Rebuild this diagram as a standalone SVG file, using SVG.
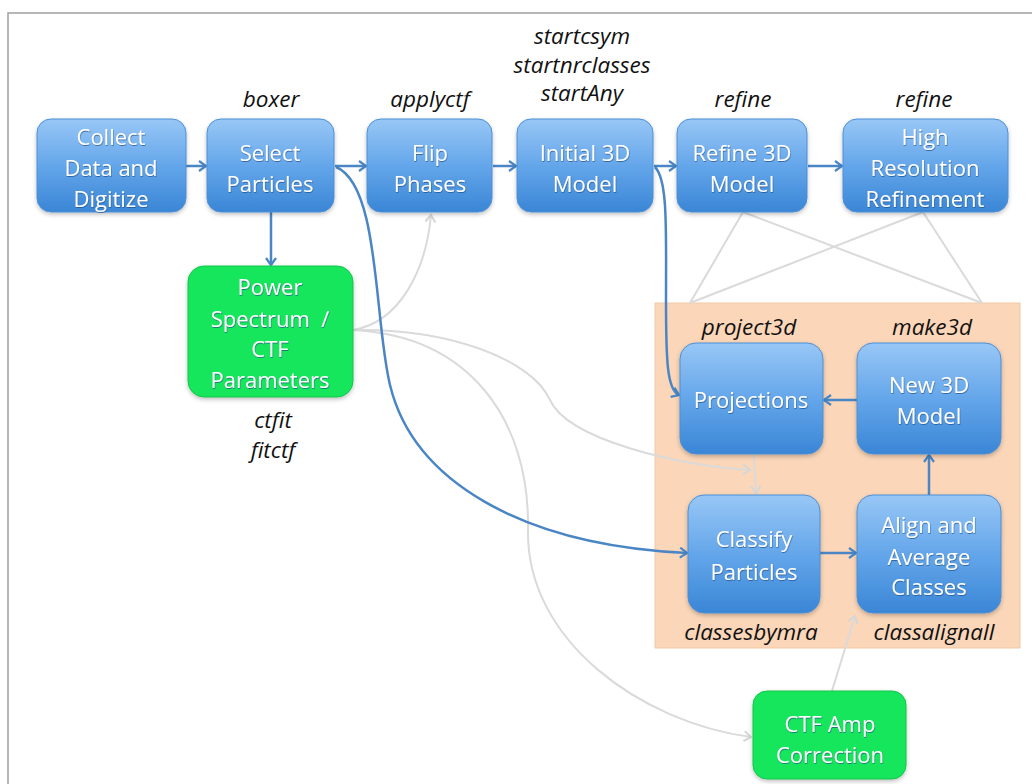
<svg xmlns="http://www.w3.org/2000/svg" width="1032" height="784" viewBox="0 0 1032 784">
  <defs>
    <linearGradient id="blueFill" x1="0" y1="0" x2="0" y2="1">
      <stop offset="0" stop-color="#98c7f6"/>
      <stop offset="0.5" stop-color="#64a6ea"/>
      <stop offset="1" stop-color="#3a86d6"/>
    </linearGradient>
    <filter id="shadow" x="-10%" y="-10%" width="120%" height="130%">
      <feDropShadow dx="0" dy="2" stdDeviation="2" flood-color="#000" flood-opacity="0.25"/>
    </filter>
    <filter id="textShadow" x="-10%" y="-20%" width="120%" height="150%">
      <feDropShadow dx="0.5" dy="1" stdDeviation="0.6" flood-color="#1b4f86" flood-opacity="0.7"/>
    </filter>
    <marker id="arrowBlue" markerWidth="12" markerHeight="12" refX="9" refY="6" orient="auto" markerUnits="userSpaceOnUse">
      <path d="M2,1 L9,6 L2,11" fill="none" stroke="#4a86c5" stroke-width="2.2" stroke-linejoin="miter"/>
    </marker>
    <marker id="arrowGray" markerWidth="12" markerHeight="12" refX="9" refY="6" orient="auto" markerUnits="userSpaceOnUse">
      <path d="M2,1 L9,6 L2,11" fill="none" stroke="#d6d6d6" stroke-width="2" stroke-linejoin="miter"/>
    </marker>
  </defs>
  <style>
    .frame { stroke: #a0a0a0; stroke-width: 1.5; fill: none; }
    .blue { fill: url(#blueFill); stroke: #4d8fd6; stroke-width: 1; filter: url(#shadow); }
    .green { fill: #14e65c; stroke: #12c44b; stroke-width: 1; filter: url(#shadow); }
    .label { font-family: "Open Sans", "Liberation Sans", sans-serif; font-size: 22px; fill: #ffffff; text-anchor: middle; filter: url(#textShadow); }
    .cmd { font-family: "Open Sans", "Liberation Sans", sans-serif; font-size: 22.5px; font-style: italic; fill: #111111; text-anchor: middle; }
    .cb { fill: none; stroke: #4a86c5; stroke-width: 2.5; }
    .cg { fill: none; stroke: #dadada; stroke-width: 2; }
  </style>

  <rect width="1032" height="784" fill="#ffffff"/>
  <path class="frame" d="M8,784 L8,13 L1032,13"/>

  <!-- iteration panel background -->
  <rect id="refinement-loop" x="655" y="303" width="365" height="345" fill="#fbd6b8" stroke="#f1c9a6" stroke-width="1"/>

  <!-- connectors -->
  <g id="connectors">
    <!-- gray guide lines from refinement stages to the loop panel -->
    <path class="cg" d="M743,212 L690,303"/>
    <path class="cg" d="M743,212 L982,303"/>
    <path class="cg" d="M923,212 L690,303"/>
    <path class="cg" d="M923,212 L982,303"/>

    <!-- CTF parameter flows -->
    <path class="cg" d="M353,330 C 400,322 426,270 431,215" marker-end="url(#arrowGray)"/>
    <path class="cg" d="M353,330 C 450,328 532,360 550,400 C 568,440 680,466 750,470" marker-end="url(#arrowGray)"/>
    <path class="cg" d="M353,330 C 470,336 530,420 528,530 C 526,640 640,722 751,737" marker-end="url(#arrowGray)"/>
    <path class="cg" d="M754,455 L756,493" marker-end="url(#arrowGray)"/>
    <path class="cg" d="M832,691 L855,616" stroke-width="3" marker-end="url(#arrowGray)"/>

    <!-- main pipeline -->
    <path class="cb" d="M186,166 L206,166" marker-end="url(#arrowBlue)"/>
    <path class="cb" d="M335,166 L366,166" marker-end="url(#arrowBlue)"/>
    <path class="cb" d="M493,166 L516,166" marker-end="url(#arrowBlue)"/>
    <path class="cb" d="M654,166 L676,166" marker-end="url(#arrowBlue)"/>
    <path class="cb" d="M808,166 L842,166" marker-end="url(#arrowBlue)"/>
    <path class="cb" d="M271,212 L271,265" marker-end="url(#arrowBlue)"/>
    <path class="cb" d="M336,167 C 380,185 374,320 390,385 C 413,480 520,545 687,553" marker-end="url(#arrowBlue)"/>
    <path class="cb" d="M655,167 C 668,180 666,230 666,300 C 666,360 667,390 679,395" marker-end="url(#arrowBlue)"/>

    <!-- refinement loop -->
    <path class="cb" d="M857,400 L824,400" marker-end="url(#arrowBlue)"/>
    <path class="cb" d="M820,553 L856,553" marker-end="url(#arrowBlue)"/>
    <path class="cb" d="M929,495 L929,455" marker-end="url(#arrowBlue)"/>
  </g>

  <!-- pipeline stages -->
  <g id="collect">
    <rect class="blue" x="37" y="119" width="149" height="93" rx="14"/>
    <text class="label" x="111" y="145">Collect</text>
    <text class="label" x="111" y="176">Data and</text>
    <text class="label" x="111" y="207">Digitize</text>
  </g>

  <g id="select">
    <text class="cmd" x="271" y="107">boxer</text>
    <rect class="blue" x="207" y="119" width="127" height="93" rx="14"/>
    <text class="label" x="270" y="161">Select</text>
    <text class="label" x="270" y="192">Particles</text>
  </g>

  <g id="flip">
    <text class="cmd" x="430" y="107">applyctf</text>
    <rect class="blue" x="367" y="119" width="125" height="93" rx="14"/>
    <text class="label" x="430" y="161">Flip</text>
    <text class="label" x="430" y="192">Phases</text>
  </g>

  <g id="initial">
    <text class="cmd" x="582" y="44">startcsym</text>
    <text class="cmd" x="582" y="73">startnrclasses</text>
    <text class="cmd" x="582" y="101">startAny</text>
    <rect class="blue" x="517" y="119" width="136" height="93" rx="14"/>
    <text class="label" x="585" y="161">Initial 3D</text>
    <text class="label" x="585" y="192">Model</text>
  </g>

  <g id="refine">
    <text class="cmd" x="743" y="107">refine</text>
    <rect class="blue" x="677" y="119" width="130" height="93" rx="14"/>
    <text class="label" x="742" y="161">Refine 3D</text>
    <text class="label" x="742" y="192">Model</text>
  </g>

  <g id="highres">
    <text class="cmd" x="924" y="107">refine</text>
    <rect class="blue" x="843" y="119" width="165" height="93" rx="14"/>
    <text class="label" x="925" y="145">High</text>
    <text class="label" x="925" y="176">Resolution</text>
    <text class="label" x="925" y="207">Refinement</text>
  </g>

  <g id="power-spectrum">
    <rect class="green" x="188" y="266" width="165" height="131" rx="16"/>
    <text class="label" x="270" y="295">Power</text>
    <text class="label" x="270" y="327" xml:space="preserve">Spectrum  /</text>
    <text class="label" x="270" y="357">CTF</text>
    <text class="label" x="270" y="388">Parameters</text>
    <text class="cmd" x="273" y="428">ctfit</text>
    <text class="cmd" x="273" y="458">fitctf</text>
  </g>

  <!-- refinement loop stages -->
  <g id="projections">
    <text class="cmd" x="749" y="335">project3d</text>
    <rect class="blue" x="680" y="343" width="143" height="111" rx="16"/>
    <text class="label" x="751" y="408">Projections</text>
  </g>

  <g id="new-model">
    <text class="cmd" x="932" y="335">make3d</text>
    <rect class="blue" x="857" y="343" width="144" height="111" rx="16"/>
    <text class="label" x="929" y="393">New 3D</text>
    <text class="label" x="929" y="424">Model</text>
  </g>

  <g id="classify">
    <rect class="blue" x="688" y="495" width="132" height="118" rx="16"/>
    <text class="label" x="754" y="547">Classify</text>
    <text class="label" x="754" y="580">Particles</text>
    <text class="cmd" x="751" y="640">classesbymra</text>
  </g>

  <g id="align">
    <rect class="blue" x="857" y="495" width="144" height="118" rx="16"/>
    <text class="label" x="929" y="533">Align and</text>
    <text class="label" x="929" y="565">Average</text>
    <text class="label" x="929" y="595">Classes</text>
    <text class="cmd" x="934" y="640">classalignall</text>
  </g>

  <g id="ctf-amp">
    <rect class="green" x="753" y="691" width="153" height="88" rx="14"/>
    <text class="label" x="830" y="732">CTF Amp</text>
    <text class="label" x="830" y="763">Correction</text>
  </g>
</svg>
